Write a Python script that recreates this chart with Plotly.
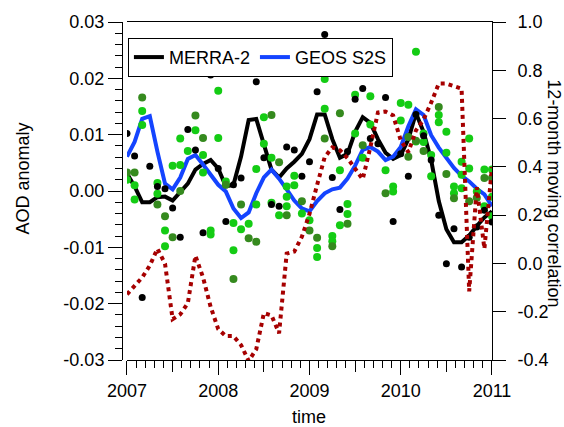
import plotly.graph_objects as go

# Monthly time axis, Jan 2007 .. Jan 2011
months = list(range(49))
time = [2007 + m / 12 for m in months]

# MERRA-2 smoothed AOD anomaly
merra_line = [0.0031, 0.0008, -0.0020, -0.0020, -0.0011, -0.0010, -0.0017, -0.0003,
              0.0013, 0.0038, 0.0048, 0.0055, 0.0040, 0.0008, 0.0011, 0.0061,
              0.0126, 0.0128, 0.0084, 0.0038, 0.0024, 0.0040, 0.0052, 0.0066,
              0.0092, 0.0136, 0.0136, 0.0092, 0.0059, 0.0066, 0.0105, 0.0131,
              0.0121, 0.0092, 0.0068, 0.0057, 0.0064, 0.0092, 0.0138, 0.0105,
              0.0055, -0.0018, -0.0068, -0.0091, -0.0091, -0.0079, -0.0062, -0.0047,
              -0.0036]

# GEOS S2S smoothed AOD anomaly
geos_line = [0.0061, 0.0087, 0.0128, 0.0133, 0.0070, 0.0013, 0.0003, 0.0024,
             0.0057, 0.0064, 0.0047, 0.0029, 0.0011, -0.0001, -0.0031, -0.0048,
             -0.0038, -0.0004, 0.0024, 0.0038, 0.0022, 0.0003, -0.0017, -0.0031,
             -0.0036, -0.0018, -0.0004, 0.0003, 0.0006, 0.0022, 0.0045, 0.0073,
             0.0078, 0.0070, 0.0055, 0.0061, 0.0078, 0.0115, 0.0145, 0.0135,
             0.0099, 0.0077, 0.0059, 0.0041, 0.0027, 0.0017, 0.0004, -0.0006,
             -0.0027]

# MERRA-2 monthly anomalies
merra_monthly = [0.0102, 0.0062, -0.0189, 0.0044, 0.0008, 0.0004, -0.0030, -0.0082,
                 0.0109, 0.0073, -0.0074, 0.0206, 0.0040, -0.0054, 0.0011, 0.0023,
                 0.0225, 0.0194, 0.0059, -0.0024, -0.0027, 0.0078, 0.0073, 0.0026,
                 0.0052, 0.0176, 0.0278, 0.0024, -0.0033, 0.0070, 0.0163, 0.0182,
                 0.0093, 0.0084, 0.0166, -0.0054, 0.0066, 0.0026, 0.0136, 0.0098,
                 0.0055, -0.0043, -0.0129, -0.0067, -0.0135, -0.0082, -0.0064, -0.0034,
                 -0.0055]

# GEOS S2S ensemble members (bright green), per month
ens_a = [[0.0020], [0.0010, -0.0015], [0.0142, 0.0117], [], [0.0014, -0.0005],
         [-0.0070, -0.0098], [0.0045], [0.0093, 0.0046], [0.0071], [0.0108],
         [0.0064, 0.0033], [-0.0070, -0.0077], [0.0178, 0.0094], [0.0017],
         [-0.0057, -0.0105], [-0.0068], [-0.0058], [0.0039, -0.0024],
         [0.0131, 0.0084], [0.0059, -0.0021], [-0.0043], [0.0008, -0.0010, -0.0027],
         [0.0027, 0.0010], [-0.0040], [-0.0052], [-0.0101, -0.0117],
         [0.0199, 0.0146], [-0.0080, -0.0089], [0.0037, -0.0061], [-0.0023, -0.0041],
         [0.0171, 0.0102], [0.0059], [0.0168, 0.0118], [], [0.0037],
         [0.0008, -0.0001], [0.0156, 0.0125], [0.0153], [0.0247, 0.0088],
         [0.0102, 0.0087], [0.0064, 0.0026], [0.0135, 0.0122], [0.0105, 0.0068],
         [0.0008, -0.0004], [0.0052, 0.0029, 0.0005], [0.0093, 0.0040], [-0.0001],
         [0.0038, -0.0027], [0.0038, -0.0010, -0.0045]]

# GEOS S2S ensemble members (dark green), per month
ens_b = [[0.0033], [0.0033], [0.0166], [], [-0.0024], [-0.0045], [-0.0082], [0.0000],
         [], [0.0134], [0.0094], [], [], [0.0011], [-0.0156], [-0.0024], [-0.0084],
         [-0.0090], [], [0.0135], [0.0051], [-0.0043], [], [-0.0018], [-0.0070],
         [-0.0083], [0.0093], [-0.0098], [0.0138], [-0.0058], [], [0.0081], [],
         [], [-0.0004], [], [], [0.0096, 0.0061], [0.0089], [0.0071], [], [0.0149],
         [0.0030], [-0.0013], [], [-0.0018], [-0.0012], [0.0023], [0.0023]]

# 12-month moving correlation (right axis)
corr = [-0.128, -0.091, -0.058, -0.009, 0.061, -0.001, -0.231, -0.211,
        -0.165, 0.032, -0.058, -0.180, -0.272, -0.301, -0.301, -0.338,
        -0.404, -0.355, -0.206, -0.215, -0.289, 0.041, 0.049, 0.111,
        0.205, 0.325, 0.440, 0.481, 0.469, 0.436, 0.395, 0.349,
        0.481, 0.625, 0.629, 0.613, 0.510, 0.461, 0.551, 0.596,
        0.666, 0.745, 0.745, 0.736, 0.724, -0.116, 0.316, 0.061,
        0.399]

left_ticks = [-0.03, -0.02, -0.01, 0.0, 0.01, 0.02, 0.03]
left_labels = ["-0.03", "-0.02", "-0.01", "0.00", "0.01", "0.02", "0.03"]
right_ticks = [-0.4, -0.2, 0.0, 0.2, 0.4, 0.6, 0.8, 1.0]
right_labels = ["-0.4", "-0.2", "0.0", "0.2", "0.4", "0.6", "0.8", "1.0"]
year_ticks = [2007, 2008, 2009, 2010, 2011]
half_year_ticks = [2007.5, 2008.5, 2009.5, 2010.5]

BRIGHT_GREEN = "#14CC14"
DARK_GREEN = "#358A1E"
FONT = "Liberation Sans, Arial, Helvetica, sans-serif"


def flatten(groups):
    xs, ys = [], []
    for t, vals in zip(time, groups):
        for v in vals:
            xs.append(t)
            ys.append(v)
    return xs, ys


fig = go.Figure()

fig.add_trace(go.Scatter(x=time, y=merra_line, mode="lines", name="MERRA-2",
                         line=dict(color="black", width=4)))
fig.add_trace(go.Scatter(x=time, y=geos_line, mode="lines", name="GEOS S2S",
                         line=dict(color="#1444FF", width=4)))

xa, ya = flatten(ens_a)
xb, yb = flatten(ens_b)
fig.add_trace(go.Scatter(x=xa, y=ya, mode="markers", showlegend=False,
                         marker=dict(color=BRIGHT_GREEN, size=8, line=dict(width=0))))
fig.add_trace(go.Scatter(x=xb, y=yb, mode="markers", showlegend=False,
                         marker=dict(color=DARK_GREEN, size=8, line=dict(width=0))))
fig.add_trace(go.Scatter(x=time, y=merra_monthly, mode="markers", showlegend=False,
                         marker=dict(color="black", size=7, line=dict(width=0))))

fig.add_trace(go.Scatter(x=time, y=corr, mode="lines", yaxis="y2", showlegend=False,
                         line=dict(color="#A60000", width=4, dash="4px,4px")))

# carrier for the half-year tick marks
fig.add_trace(go.Scatter(x=[], y=[], xaxis="x2", showlegend=False, hoverinfo="skip"))

axis_font = dict(family=FONT, size=18, color="black")

fig.update_layout(
    width=564, height=427, autosize=False,
    margin=dict(l=122, r=72, t=19, b=67),
    plot_bgcolor="white", paper_bgcolor="white",
    font=axis_font,
    xaxis=dict(domain=[0.0135, 1], anchor="y", range=[2007, 2011],
               tickmode="array", tickvals=year_ticks, ticktext=[str(y) for y in year_ticks],
               ticks="outside", ticklen=14, tickwidth=1, tickcolor="black",
               minor=dict(tickmode="linear", tick0=2007, dtick=0.1, ticks="outside",
                          ticklen=7, tickwidth=1, tickcolor="black", showgrid=False),
               showline=True, linecolor="black", linewidth=1, mirror=True,
               showgrid=False, zeroline=False, tickfont=axis_font),
    xaxis2=dict(overlaying="x", anchor="y", domain=[0.0135, 1], range=[2007, 2011],
                tickmode="array", tickvals=half_year_ticks, ticks="outside", ticklen=11,
                tickwidth=1, tickcolor="black", showticklabels=False,
                showline=False, showgrid=False, zeroline=False),
    yaxis=dict(anchor="free", position=0, range=[-0.03, 0.03],
               tickmode="array", tickvals=left_ticks, ticktext=left_labels,
               ticks="outside", ticklen=14, tickwidth=1, tickcolor="black",
               minor=dict(tickmode="linear", tick0=0, dtick=0.002, ticks="outside",
                          ticklen=7, tickwidth=1, tickcolor="black", showgrid=False),
               showline=True, linecolor="black", linewidth=1,
               showgrid=False, zeroline=False, tickfont=axis_font),
    yaxis2=dict(overlaying="y", side="right", anchor="x", range=[-0.4, 1.0],
                tickmode="array", tickvals=right_ticks, ticktext=right_labels,
                ticks="outside", ticklen=13, tickwidth=1, tickcolor="black",
                ticklabelstandoff=8,
                showline=True, linecolor="black", linewidth=1,
                showgrid=False, zeroline=False, tickfont=axis_font),
    legend=dict(orientation="h", x=0.016, y=0.953, xanchor="left", yanchor="top",
                bgcolor="white", bordercolor="black", borderwidth=1,
                font=dict(family=FONT, size=18, color="black"),
                itemwidth=30, tracegroupgap=0),
    annotations=[
        dict(text="AOD anomaly", xref="paper", yref="paper", x=-0.265, y=0.537,
             xanchor="center", yanchor="middle",
             textangle=-90, showarrow=False, font=axis_font),
        dict(text="12-month moving correlation", xref="paper", yref="paper",
             x=1.1676, y=0.493, xanchor="center", yanchor="middle",
             textangle=90, showarrow=False, font=axis_font),
        dict(text="time", xref="paper", yref="paper", x=0.505, y=-0.17,
             xanchor="center", yanchor="middle",
             showarrow=False, font=axis_font),
    ],
)

fig.write_html("out.html")
